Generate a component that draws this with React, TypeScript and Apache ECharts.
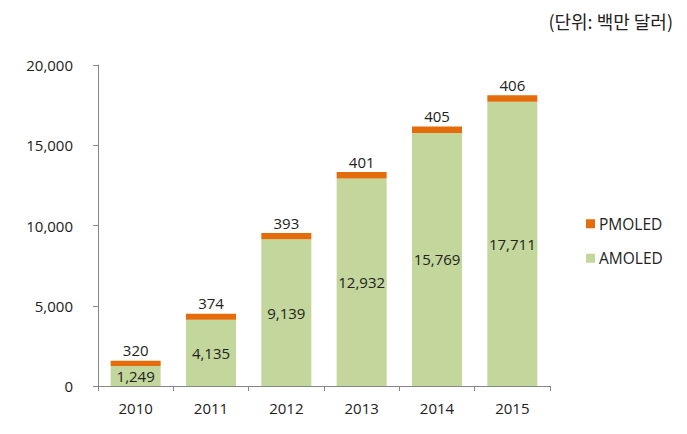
import React, { useEffect, useRef } from "react";
import * as echarts from "echarts";

const categories = ["2010", "2011", "2012", "2013", "2014", "2015"];
const amoled = [1249, 4135, 9139, 12932, 15769, 17711];
const pmoled = [320, 374, 393, 401, 405, 406];
const unitText = "(단위: 백만 달러)";

export default function App() {
  const ref = useRef<HTMLDivElement>(null);
  useEffect(() => {
    document.body.style.margin = "0";
    const chart = echarts.init(ref.current!, null, { renderer: "svg" });
    const font = "'Open Sans', 'Noto Sans CJK KR', sans-serif";
    chart.setOption({
      animation: false,
      backgroundColor: "#ffffff",
      textStyle: { fontFamily: font },
      title: {
        text: unitText,
        right: 9,
        top: 7,
        textStyle: { fontSize: 18, fontWeight: "normal", color: "#222", fontFamily: "'Noto Sans CJK KR', sans-serif" },
      },
      legend: {
        orient: "vertical",
        left: 581,
        top: 211,
        itemWidth: 9,
        itemHeight: 9,
        itemGap: 19,
        icon: "rect",
        data: ["PMOLED", "AMOLED"],
        textStyle: { fontSize: 15.5, color: "#222", padding: [0, 0, 0, -1] },
      },
      grid: { left: 98, right: 137, top: 65, bottom: 48, containLabel: false },
      xAxis: {
        type: "category",
        data: categories,
        axisLine: { lineStyle: { color: "#868686" } },
        axisTick: { show: true, alignWithLabel: false, length: 5, lineStyle: { color: "#868686" } },
        axisLabel: { fontSize: 15, color: "#222", margin: 14 },
      },
      yAxis: {
        type: "value",
        min: 0,
        max: 20000,
        interval: 5000,
        splitLine: { show: false },
        axisLine: { show: true, lineStyle: { color: "#868686" } },
        axisTick: { show: true, length: 5, lineStyle: { color: "#868686" } },
        axisLabel: {
          fontSize: 15,
          color: "#222",
          margin: 25,
          formatter: (v: number) => v.toLocaleString("en-US"),
        },
      },
      series: [
        {
          name: "AMOLED",
          type: "bar",
          stack: "total",
          data: amoled,
          barWidth: 50,
          itemStyle: { color: "#c3d69b" },
          label: {
            show: true,
            position: "inside",
            fontSize: 15,
            color: "#222",
            formatter: (p: any) => Number(p.value).toLocaleString("en-US"),
          },
        },
        {
          name: "PMOLED",
          type: "bar",
          stack: "total",
          data: pmoled,
          barWidth: 50,
          itemStyle: { color: "#e46c0a" },
          label: {
            show: true,
            position: "top",
            distance: 3,
            fontSize: 15,
            color: "#222",
            formatter: (p: any) => Number(p.value).toLocaleString("en-US"),
          },
        },
      ],
    });
    return () => chart.dispose();
  }, []);
  return <div ref={ref} style={{ width: 687, height: 434 }} />;
}
